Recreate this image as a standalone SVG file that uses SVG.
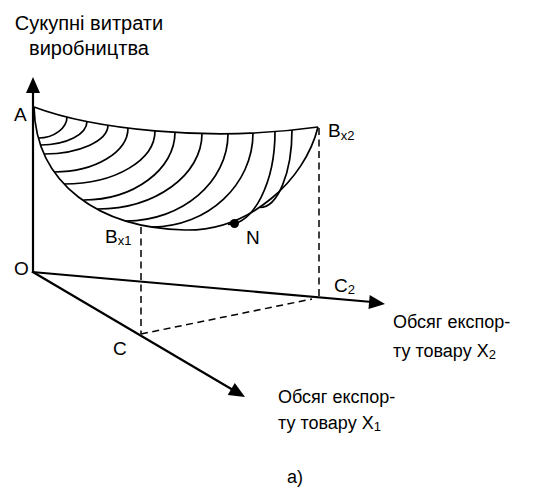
<svg xmlns="http://www.w3.org/2000/svg" width="536" height="490" viewBox="0 0 536 490">
<style>
text{font-family:"Liberation Sans",Arial,sans-serif;fill:#000}
.t{font-size:20px}
.l{font-size:19px}
.lab{font-size:18px}
.sub{font-size:13px}
.ax{stroke:#000;stroke-width:2.2;fill:none}
.cv{stroke:#000;stroke-width:1.7;fill:none}
.ds{stroke:#000;stroke-width:1.5;fill:none;stroke-dasharray:7 4.5}
.ah{fill:#000;stroke:none}
</style>
<rect width="536" height="490" fill="#fff"/>
<g id="connectors">
<line class="ax" x1="33" y1="273" x2="33" y2="90"/>
<polygon class="ah" points="33,77 26,93 40,93"/>
<line class="ax" x1="32" y1="272" x2="372" y2="302"/>
<polygon class="ah" points="385,304 369.7,295 368.5,309"/>
<line class="ax" x1="32" y1="271.5" x2="233" y2="390"/>
<polygon class="ah" points="245,397 227.7,394.9 234.8,382.9"/>
<line class="ds" x1="319" y1="128" x2="319" y2="298"/>
<line class="ds" x1="141" y1="227" x2="141" y2="334"/>
<line class="ds" x1="141" y1="334" x2="312" y2="299"/>
</g>
<g id="surface">
<path class="cv" d="M34,107 C90,128 205,143 318,127"/>
<path class="cv" d="M34,107 C36,185 100,228 185,230 C250,231 305,180 318,127"/>
</g>
<g id="hatching">
<path class="cv" d="M67,116.9 C67,128 54,138 38.5,138"/>
<path class="cv" d="M87,121.3 C87,134.5 66.4,145 40.7,145"/>
<path class="cv" d="M108,125.1 C108,141 79.1,154 44.3,154"/>
<path class="cv" d="M128,128 C128,152.2 94.9,172 54.5,172"/>
<path class="cv" d="M155,131 C155,160 115.4,184 64,184"/>
<path class="cv" d="M175,132.3 C175,169.3 133.9,200 83.5,200"/>
<path class="cv" d="M202,133.5 C202,174.9 155.6,209 97.5,209"/>
<path class="cv" d="M228,133.7 C228,181.8 182.1,221 126,221"/>
<path class="cv" d="M253,133 C253,184.7 207.6,227 152,227"/>
<path class="cv" d="M275,131.6 C275,182.4 253.9,224.4 228,224.4"/>
<path class="cv" d="M292,130.1 C292,173 277.6,207.5 260,207.5"/>
</g>
<g id="point-N">
<circle cx="234.5" cy="223.5" r="4.5" fill="#000"/>
<text class="l" x="246" y="244">N</text>
</g>
<g id="title">
<text class="t" x="89" y="30" text-anchor="middle">Сукупні витрати</text>
<text class="t" x="89" y="55" text-anchor="middle">виробництва</text>
</g>
<g id="label-A"><text class="l" x="14" y="121">A</text></g>
<g id="label-O"><text class="l" x="14" y="275">O</text></g>
<g id="label-C"><text class="l" x="113" y="355">C</text></g>
<g id="label-C2"><text class="l" x="334" y="292">C<tspan class="sub" dy="2">2</tspan></text></g>
<g id="label-Bx2"><text class="l" x="328" y="137">B<tspan class="sub" dy="3">x2</tspan></text></g>
<g id="label-Bx1"><text class="l" x="105" y="243">B<tspan class="sub" dy="2">x1</tspan></text></g>
<g id="label-X2">
<text class="lab" x="393" y="328">Обсяг експор-</text>
<text class="lab" x="393" y="357">ту товару X<tspan class="sub" dy="2">2</tspan></text>
</g>
<g id="label-X1">
<text class="lab" x="278" y="403">Обсяг експор-</text>
<text class="lab" x="278" y="429">ту товару X<tspan class="sub" dy="2">1</tspan></text>
</g>
<g id="caption"><text class="lab" x="287" y="483">а)</text></g>
</svg>
